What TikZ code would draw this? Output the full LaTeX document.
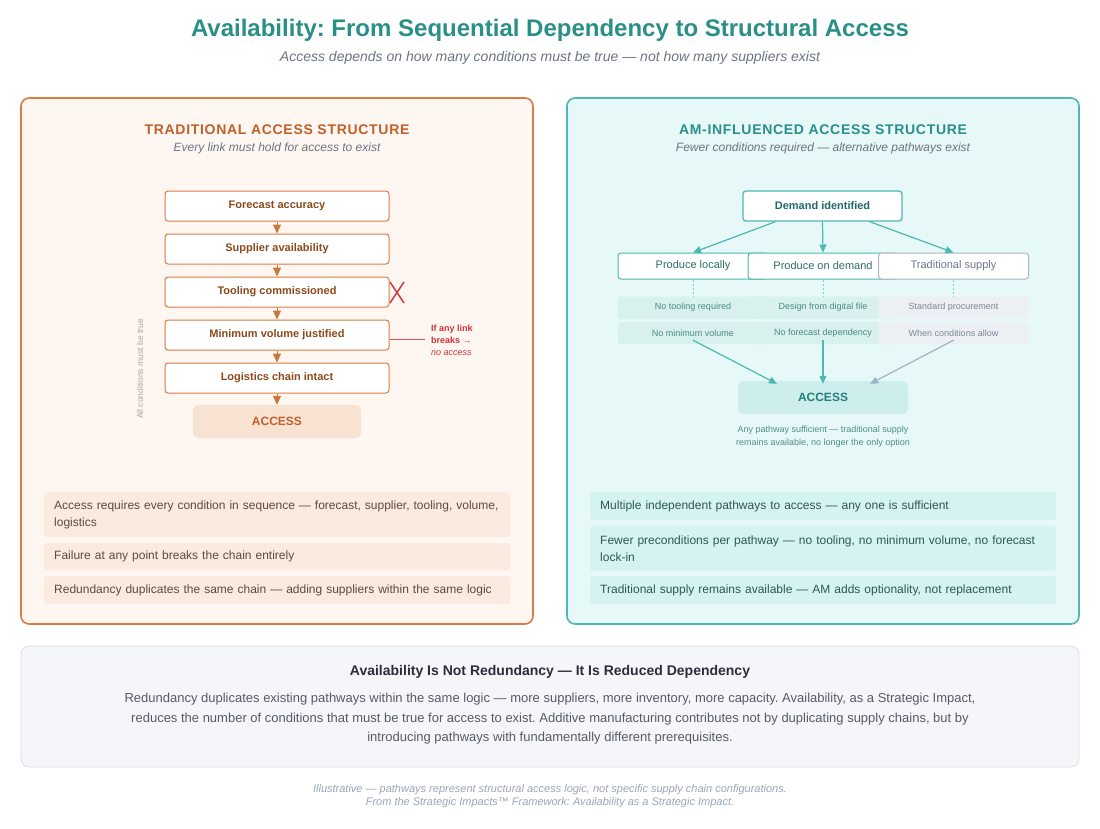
\documentclass[tikz,border=0pt]{standalone}
\usepackage{fontspec}
\setmainfont{Liberation Sans}
\usetikzlibrary{arrows.meta,calc}
\frenchspacing
\definecolor{ttl}{HTML}{2A9087}
\definecolor{subg}{HTML}{6B7584}
\definecolor{oHead}{HTML}{C0602A}
\definecolor{oBord}{HTML}{D97B45}
\definecolor{oFill}{HTML}{FEF6F0}
\definecolor{oText}{HTML}{8B4A1C}
\definecolor{oArr}{HTML}{C8783A}
\definecolor{oAcc}{HTML}{F8E2D2}
\definecolor{redx}{HTML}{D0333A}
\definecolor{oBul}{HTML}{FBEADF}
\definecolor{oBulT}{HTML}{5E4A40}
\definecolor{tFill}{HTML}{E6F8F8}
\definecolor{tBord}{HTML}{4DB8B2}
\definecolor{tHead}{HTML}{2A8F88}
\definecolor{tDark}{HTML}{1F6B66}
\definecolor{tPath}{HTML}{2E6E6A}
\definecolor{gPath}{HTML}{6B7A8C}
\definecolor{gBord}{HTML}{A9B6C6}
\definecolor{gArr}{HTML}{A0B4C8}
\definecolor{tCond}{HTML}{D8F1EF}
\definecolor{gCond}{HTML}{ECEFF4}
\definecolor{tCondT}{HTML}{4B8A86}
\definecolor{gCondT}{HTML}{7C8898}
\definecolor{tAcc}{HTML}{CDEEEC}
\definecolor{tAccT}{HTML}{237F79}
\definecolor{tBul}{HTML}{D5F3F1}
\definecolor{tBulT}{HTML}{2F5753}
\definecolor{bFill}{HTML}{F5F6FA}
\definecolor{bBord}{HTML}{DCDFE6}
\definecolor{bTitle}{HTML}{2B2D3A}
\definecolor{bBody}{HTML}{555B66}
\definecolor{foot}{HTML}{9AA6B8}
\definecolor{capT}{HTML}{4F8F8A}
\begin{document}
\begin{tikzpicture}[x=1pt,y=-1pt,
  panelL/.style={draw=oBord,fill=oFill,line width=1.6pt,rounded corners=8pt},
  panelR/.style={draw=tBord,fill=tFill,line width=1.6pt,rounded corners=8pt},
  chainbox/.style={draw=oBord,fill=white,line width=1pt,rounded corners=3pt,minimum width=224pt,minimum height=30pt,inner sep=0pt,font=\fontsize{11}{13}\selectfont\bfseries,text=oText},
  chainarr/.style={draw=oArr,line width=1pt,-{Triangle[width=8pt,length=9pt]},color=oArr},
  bulL/.style={fill=oBul,rounded corners=3pt,anchor=north west,text width=446pt,inner xsep=10pt,inner ysep=0pt,align=left,font=\fontsize{12}{17}\selectfont,text=oBulT},
  bulR/.style={fill=tBul,rounded corners=3pt,anchor=north west,text width=446pt,inner xsep=10pt,inner ysep=0pt,align=left,font=\fontsize{12}{17}\selectfont,text=tBulT},
  pathbox/.style={draw=tBord,fill=white,line width=1pt,rounded corners=3pt,minimum width=150pt,minimum height=26pt,inner sep=0pt,font=\fontsize{11}{13}\selectfont,text=tPath},
  condbox/.style={fill=tCond,rounded corners=2pt,minimum width=150pt,minimum height=22pt,inner sep=0pt,font=\fontsize{9}{11}\selectfont,text=tCondT},
  gcondbox/.style={fill=gCond,rounded corners=2pt,minimum width=150pt,minimum height=22pt,inner sep=0pt,font=\fontsize{9}{11}\selectfont,text=gCondT},
  tarr/.style={draw=tBord,line width=1.2pt,-{Triangle[width=7pt,length=8pt]}},
  garr/.style={draw=gArr,line width=1.2pt,-{Triangle[width=7pt,length=8pt]}},
  dashl/.style={draw=tBord!70,line width=0.7pt,dash pattern=on 2pt off 2pt}
]
\useasboundingbox (0,0) rectangle (1100,828);
\fill[white] (0,0) rectangle (1100,828);

% Title
\node[font=\fontsize{24}{28}\selectfont\bfseries,text=ttl] (title) at (550,30) {Availability: From Sequential Dependency to Structural Access};
\node[font=\fontsize{14}{16}\selectfont\itshape,text=subg] (subtitle) at (550,58) {Access depends on how many conditions must be true — not how many suppliers exist};

% Panels
\draw[panelL] (21,98) rectangle (533,624);
\draw[panelR] (567,98) rectangle (1079,624);

% Left headings
\node[font=\fontsize{14}{16}\selectfont\bfseries\addfontfeature{LetterSpace=5},text=oHead] (lh) at (277,130) {TRADITIONAL ACCESS STRUCTURE};
\node[font=\fontsize{12}{14}\selectfont\itshape,text=subg] (ls) at (277,148) {Every link must hold for access to exist};

% Chain
\node[chainbox] (c1) at (277,206) {Forecast accuracy};
\node[chainbox] (c2) at (277,249) {Supplier availability};
\node[chainbox] (c3) at (277,292) {Tooling commissioned};
\node[chainbox] (c4) at (277,335) {Minimum volume justified};
\node[chainbox] (c5) at (277,378) {Logistics chain intact};
\node[fill=oAcc,rounded corners=5pt,minimum width=168pt,minimum height=33pt,inner sep=0pt,font=\fontsize{12}{14}\selectfont\bfseries,text=oHead] (lacc) at (277,421.5) {ACCESS};
\draw[chainarr] (c1.south) -- (c2.north);
\draw[chainarr] (c2.south) -- (c3.north);
\draw[chainarr] (c3.south) -- (c4.north);
\draw[chainarr] (c4.south) -- (c5.north);
\draw[chainarr] (c5.south) -- (lacc.north);

% Red X
\coordinate (x0) at (397,292.5);
\draw[redx,line width=1.5pt] ($(x0)+(-7,-10.5)$) -- ($(x0)+(7,10.5)$);
\draw[redx,line width=1.5pt] ($(x0)+(7,-10.5)$) -- ($(x0)+(-7,10.5)$);

% Break note
\node[anchor=west,align=left,inner sep=0pt,font=\fontsize{9}{12}\selectfont,text=redx] (brk) at (431,340) {\bfseries If any link\\\bfseries breaks →\\\itshape no access};
\draw[redx!85,line width=1pt] (c4.east |- 0,339) -- (425,339);

% Rotated note
\node[rotate=90,font=\fontsize{8.5}{10}\selectfont,text=gray!70] (allc) at (140,369) {All conditions must be true};

% Left bullets
\node[bulL,minimum height=45pt] (lb1) at (44,492) {Access requires every condition in sequence — forecast, supplier, tooling, volume,\\logistics};
\node[bulL,minimum height=27pt] (lb2) at (44,543) {Failure at any point breaks the chain entirely};
\node[bulL,minimum height=28pt] (lb3) at (44,576) {Redundancy duplicates the same chain — adding suppliers within the same logic};

% Right headings
\node[font=\fontsize{14}{16}\selectfont\bfseries\addfontfeature{LetterSpace=5},text=tHead] (rh) at (823,130) {AM-INFLUENCED ACCESS STRUCTURE};
\node[font=\fontsize{12}{14}\selectfont\itshape,text=subg] (rs) at (823,148) {Fewer conditions required — alternative pathways exist};

% Demand
\node[draw=tBord,fill=white,line width=1.3pt,rounded corners=3pt,minimum width=159pt,minimum height=30pt,inner sep=0pt,font=\fontsize{11}{13}\selectfont\bfseries,text=tDark] (dem) at (822.5,206) {Demand identified};

% Pathways
\node[pathbox] (p1) at (693,266) {Produce locally};
\node[pathbox] (p2) at (823,266) {Produce on demand};
\node[pathbox,draw=gBord,text=gPath] (p3) at (953.5,266) {Traditional supply};

\draw[tarr] ([xshift=-47pt]dem.south) -- (p1.north);
\draw[tarr] (dem.south) -- (p2.north);
\draw[tarr] ([xshift=47pt]dem.south) -- (p3.north);

% Conditions
\node[condbox] (a1) at (693,307.5) {No tooling required};
\node[condbox] (a2) at (693,333) {No minimum volume};
\node[condbox] (b1) at (823,307.5) {Design from digital file};
\node[condbox] (b2) at (823,333) {No forecast dependency};
\node[gcondbox] (g1) at (953.5,307.5) {Standard procurement};
\node[gcondbox] (g2) at (953.5,333) {When conditions allow};

\draw[dashl] (p1.south) -- (a1.north);
\draw[dashl] (p2.south) -- (b1.north);
\draw[dashl] (p3.south) -- (g1.north);

% Right access
\node[fill=tAcc,rounded corners=5pt,minimum width=170pt,minimum height=33pt,inner sep=0pt,font=\fontsize{12}{14}\selectfont\bfseries,text=tAccT] (racc) at (823,397.5) {ACCESS};
\draw[tarr] ([yshift=4pt]a2.south) -- ([xshift=-46pt,yshift=-3pt]racc.north);
\draw[tarr] ([yshift=4pt]b2.south) -- ([yshift=-3pt]racc.north);
\draw[garr] ([yshift=4pt]g2.south) -- ([xshift=47pt,yshift=-3pt]racc.north);

\node[align=center,font=\fontsize{9}{13}\selectfont,text=capT] (cap) at (823,437) {Any pathway sufficient — traditional supply\\remains available, no longer the only option};

% Right bullets
\node[bulR,minimum height=28pt] (rb1) at (590,492) {Multiple independent pathways to access — any one is sufficient};
\node[bulR,minimum height=45pt] (rb2) at (590,526) {Fewer preconditions per pathway — no tooling, no minimum volume, no forecast\\lock-in};
\node[bulR,minimum height=28pt] (rb3) at (590,576) {Traditional supply remains available — AM adds optionality, not replacement};

% Bottom box
\draw[draw=bBord,fill=bFill,line width=0.8pt,rounded corners=8pt] (21,646) rectangle (1079,767);
\node[font=\fontsize{14}{16}\selectfont\bfseries,text=bTitle] (bt) at (550,672) {Availability Is Not Redundancy — It Is Reduced Dependency};
\node[align=center,font=\fontsize{13}{19.5}\selectfont,text=bBody] (bb) at (550,719) {Redundancy duplicates existing pathways within the same logic — more suppliers, more inventory, more capacity. Availability, as a Strategic Impact,\\reduces the number of conditions that must be true for access to exist. Additive manufacturing contributes not by duplicating supply chains, but by\\introducing pathways with fundamentally different prerequisites.};

% Footer
\node[align=center,font=\fontsize{11}{12.5}\selectfont\itshape,text=foot] (ft) at (550,796) {Illustrative — pathways represent structural access logic, not specific supply chain configurations.\\From the Strategic Impacts™ Framework: Availability as a Strategic Impact.};
\end{tikzpicture}
\end{document}
